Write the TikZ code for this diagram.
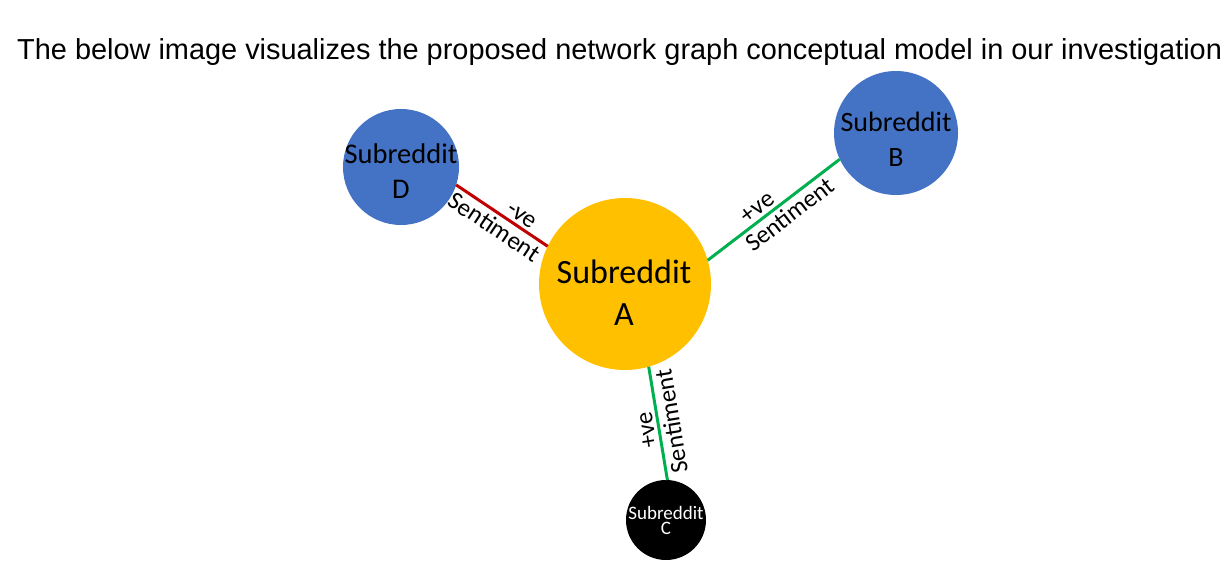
\documentclass[tikz,border=0pt]{standalone}
\usepackage{fontspec}
\setmainfont{Carlito}
\newfontfamily\titlefont{Liberation Sans}
\definecolor{subblue}{HTML}{4472C4}
\definecolor{subgold}{HTML}{FFC000}
\definecolor{subgreen}{HTML}{00B050}
\definecolor{subred}{HTML}{C00000}

\begin{document}
\begin{tikzpicture}[x=1pt, y=1pt,
    sub/.style={circle, inner sep=0pt, outer sep=0pt, draw=none},
    link/.style={line width=3pt},
    tag/.style={font=\fontsize{25}{29}\selectfont, text=black, sloped, inner sep=3pt}]
    \useasboundingbox (0,0) rectangle (1222,587);

    \node[anchor=base west, inner sep=0pt, font=\titlefont\fontsize{28.9}{34}\selectfont] (title) at (17,527)
        {The below image visualizes the proposed network graph conceptual model in our investigation};

    \node[sub, fill=subgold, minimum size=172] (A) at (625,303) {};
    \node[sub, fill=subblue, minimum size=124] (B) at (896,454) {};
    \node[sub, fill=black, minimum size=80] (C) at (666,67) {};
    \node[sub, fill=subblue, minimum size=116] (D) at (401,420) {};

    \node[align=center, font=\fontsize{34}{42}\selectfont] (Atext) at (624,294.5) {Subreddit\\A};
    \node[align=center, font=\fontsize{28}{35}\selectfont] (Btext) at (896,447.3) {Subreddit\\B};
    \node[align=center, text=white, font=\fontsize{19}{15}\selectfont] (Ctext) at (666,66.1) {Subreddit\\C};
    \node[align=center, font=\fontsize{28.5}{35}\selectfont] (Dtext) at (401,416.3) {Subreddit\\D};

    \draw[link, subred] (D.-18) -- (A.154)
        node[tag, pos=0.5, below] (DAlow) {Sentiment}
        node[tag, pos=0.65, above] (DAup) {-ve};
    \draw[link, subgreen] (A.16) -- (B.205)
        node[tag, pos=0.43, above] (ABup) {+ve}
        node[tag, pos=0.56, below] (ABlow) {Sentiment};
    \draw[link, subgreen] (C.88) -- (A.-74)
        node[tag, allow upside down, pos=0.46, above] (CAup) {+ve}
        node[tag, allow upside down, pos=0.5, below] (CAlow) {Sentiment};
\end{tikzpicture}
\end{document}
